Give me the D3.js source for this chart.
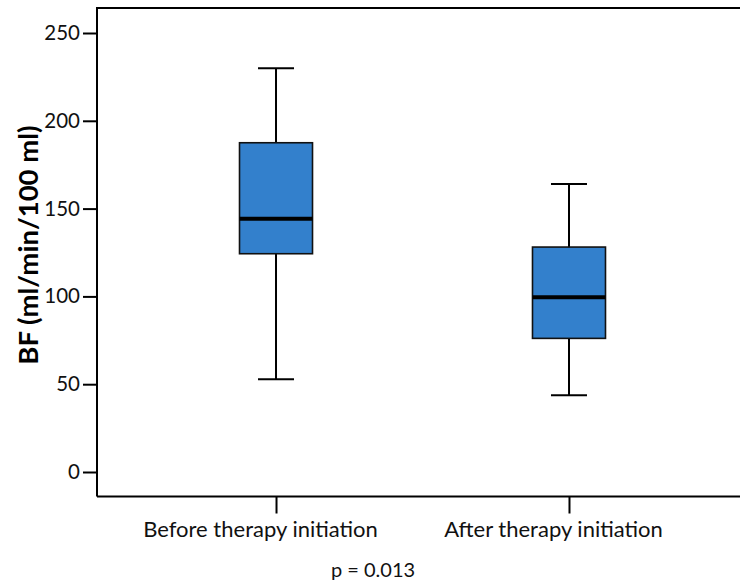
<!DOCTYPE html>
<html>
<head>
<meta charset="utf-8">
<script src="https://cdn.jsdelivr.net/npm/d3@7"></script>
<style>
  body { margin: 0; background: #fff; }
  svg { display: block; font-family: Lato, "Open Sans", sans-serif; }
</style>
</head>
<body>
<div id="chart"></div>
<script>
// data
const groups   = ['Before therapy initiation', 'After therapy initiation'];
const whiskLo  = [52.8, 43.7];
const q1       = [124.3, 76.1];
const medians  = [144.2, 99.5];
const q3       = [187.5, 128.1];
const whiskHi  = [229.9, 164.0];
const yTicks   = [0, 50, 100, 150, 200, 250];
const pLabel   = 'p = 0.013';

const W = 740, H = 588;
const plotL = 97, plotT = 8, plotB = 496.5, plotR = 748;

const svg = d3.select('#chart').append('svg')
    .attr('width', W).attr('height', H);

const y = d3.scaleLinear().domain([0, 250]).range([472, 33]);
const x = d3.scalePoint().domain(groups).range([plotL, plotR]).padding(0.611);

// frame (left, top, bottom)
svg.append('path')
    .attr('d', `M${plotL},${plotB}V${plotT}H${W}M${plotL},${plotB}H${W}`)
    .attr('fill', 'none').attr('stroke', '#000').attr('stroke-width', 2);

// y axis
const yAxis = svg.append('g')
    .attr('transform', `translate(${plotL},0)`)
    .call(d3.axisLeft(y).tickValues(yTicks).tickSize(14).tickPadding(3));
yAxis.select('.domain').remove();
yAxis.selectAll('line').attr('stroke-width', 2);
yAxis.selectAll('text').attr('font-size', 20.5).attr('fill', '#111')
    .attr('font-family', 'Lato, sans-serif');

// x axis
const xAxis = svg.append('g')
    .attr('transform', `translate(0,${plotB})`)
    .call(d3.axisBottom(x).tickSize(17).tickPadding(8));
xAxis.select('.domain').remove();
xAxis.selectAll('line').attr('stroke-width', 2);
xAxis.selectAll('text').attr('font-size', 22).attr('fill', '#111')
    .attr('dx', -16).attr('font-family', 'Lato, sans-serif');

// y label
svg.append('text')
    .attr('transform', `translate(38,245) rotate(-90)`)
    .attr('text-anchor', 'middle')
    .attr('font-size', 27.5).attr('font-weight', 'bold').attr('fill', '#000')
    .text('BF (ml/min/100 ml)');

// p value
svg.append('text')
    .attr('x', 373).attr('y', 577)
    .attr('text-anchor', 'middle')
    .attr('font-size', 20).attr('fill', '#111')
    .text(pLabel);

// boxes
const boxW = 73, capW = 36;
const g = svg.selectAll('.box').data(groups).enter().append('g').attr('class', 'box');

g.append('line') // whisker
    .attr('x1', d => x(d)).attr('x2', d => x(d))
    .attr('y1', (d, i) => y(whiskLo[i])).attr('y2', (d, i) => y(whiskHi[i]))
    .attr('stroke', '#000').attr('stroke-width', 2);

[whiskLo, whiskHi].forEach(arr => {
  g.append('line')
      .attr('x1', d => x(d) - capW / 2).attr('x2', d => x(d) + capW / 2)
      .attr('y1', (d, i) => y(arr[i])).attr('y2', (d, i) => y(arr[i]))
      .attr('stroke', '#000').attr('stroke-width', 2);
});

g.append('rect')
    .attr('x', d => x(d) - boxW / 2).attr('width', boxW)
    .attr('y', (d, i) => y(q3[i]))
    .attr('height', (d, i) => y(q1[i]) - y(q3[i]))
    .attr('fill', '#3380cc').attr('stroke', '#111').attr('stroke-width', 1.6);

g.append('line') // median
    .attr('x1', d => x(d) - boxW / 2).attr('x2', d => x(d) + boxW / 2)
    .attr('y1', (d, i) => y(medians[i])).attr('y2', (d, i) => y(medians[i]))
    .attr('stroke', '#000').attr('stroke-width', 4);
</script>
</body>
</html>
